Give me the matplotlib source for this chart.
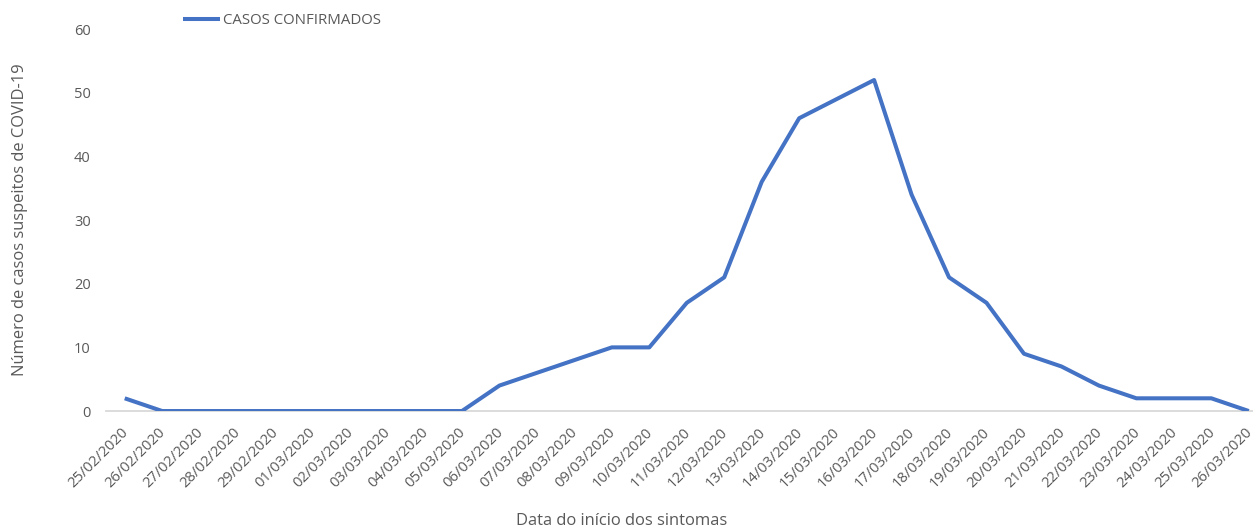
import matplotlib.pyplot as plt
import matplotlib.transforms as mtransforms
import numpy as np

plt.rcParams['font.family'] = ['Open Sans', 'DejaVu Sans']

# dados
datas = ['25/02/2020', '26/02/2020', '27/02/2020', '28/02/2020', '29/02/2020',
         '01/03/2020', '02/03/2020', '03/03/2020', '04/03/2020', '05/03/2020',
         '06/03/2020', '07/03/2020', '08/03/2020', '09/03/2020', '10/03/2020',
         '11/03/2020', '12/03/2020', '13/03/2020', '14/03/2020', '15/03/2020',
         '16/03/2020', '17/03/2020', '18/03/2020', '19/03/2020', '20/03/2020',
         '21/03/2020', '22/03/2020', '23/03/2020', '24/03/2020', '25/03/2020',
         '26/03/2020']
casos = [2, 0, 0, 0, 0, 0, 0, 0, 0, 0, 4, 6, 8, 10, 10, 17, 21, 36, 46, 49,
         52, 34, 21, 17, 9, 7, 4, 2, 2, 2, 0]

cinza = '#595959'

fig = plt.figure(figsize=(12.53, 5.29), dpi=100)
ax = fig.add_axes([0.0846, 0.223, 0.927, 0.722])

x = np.arange(len(datas))
ax.plot(x, casos, color='#4472C4', linewidth=2.9, solid_joinstyle='round',
        solid_capstyle='butt', label='CASOS CONFIRMADOS', zorder=3)

ax.set_xlim(-0.5, len(datas) - 0.5)
ax.set_ylim(0, 60)
ax.set_yticks(np.arange(0, 61, 10))
ax.set_xticks(x)
ax.set_xticklabels(datas, rotation=45, ha='right', va='top',
                   rotation_mode='anchor', fontsize=10.6)
ax.tick_params(axis='both', length=0, colors=cinza)
ax.tick_params(axis='y', labelsize=10.5, pad=11)
ax.tick_params(axis='x', pad=10)

# desloca um pouco os rótulos das datas para a esquerda
desloc = mtransforms.ScaledTranslation(-4 / 100, 0, fig.dpi_scale_trans)
for lbl in ax.get_xticklabels():
    lbl.set_transform(lbl.get_transform() + desloc)

for s in ['top', 'right', 'left']:
    ax.spines[s].set_visible(False)
ax.spines['bottom'].set_color('#D9D9D9')
ax.spines['bottom'].set_linewidth(1.3)
ax.spines['bottom'].set_zorder(1)

ax.set_ylabel('Número de casos suspeitos de COVID-19', color=cinza, fontsize=11.9)
ax.yaxis.set_label_coords(-0.067, 0.5)
fig.text(0.496, 0.0, 'Data do início dos sintomas', color=cinza,
         fontsize=11.9, ha='center', va='bottom')

fig.legend(loc='upper left', bbox_to_anchor=(0.135, 1.0), frameon=False,
           handlelength=2.5, handletextpad=0.2, fontsize=10.8,
           labelcolor=cinza)

plt.savefig('out.png', dpi=100)
